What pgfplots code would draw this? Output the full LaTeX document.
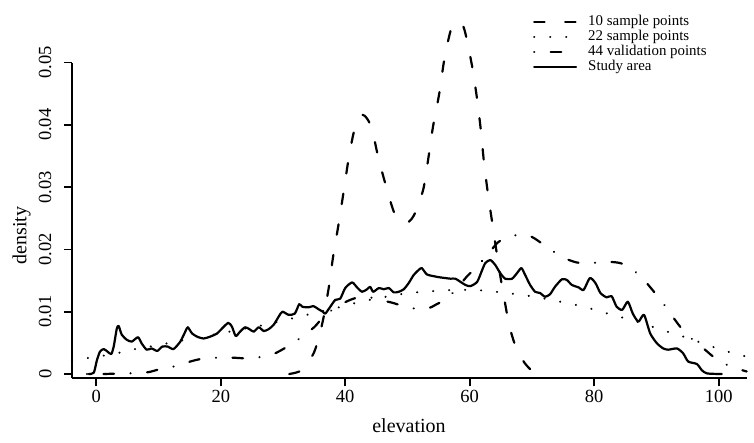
\documentclass[border=0pt]{standalone}
\usepackage{pgfplots}
\pgfplotsset{compat=1.18}
\usepackage{fontspec}
\setmainfont{Liberation Serif}
\begin{document}
\begin{tikzpicture}
\begin{axis}[
  scale only axis,
  width=674.7pt, height=368.3pt,
  xmin=-3.9, xmax=104.5,
  ymin=-0.00069, ymax=0.05843,
  axis x line*=bottom, axis y line*=left,
  y axis line style={draw=none},
  x axis line style={line width=1.8pt},
  clip=false,
  tick align=outside,
  major tick length=8pt,
  tick style={line width=1.6pt, black},
  scaled y ticks=false, scaled x ticks=false,
  xtick={0,20,40,60,80,100},
  xticklabels={0,20,40,60,80,100},
  ytick={0,0.01,0.02,0.03,0.04,0.05},
  yticklabels={0,0.01,0.02,0.03,0.04,0.05},
  /pgf/number format/assume math mode=true,
  tick label style={font=\fontsize{18.5}{20}\selectfont},
  yticklabel style={xshift=-9pt, rotate=90, anchor=south},
  xlabel={elevation}, ylabel={density},
  label style={font=\fontsize{20}{22}\selectfont},
  xlabel style={at={(axis description cs:0.4995,-0.1485)}, anchor=base},
  ylabel style={at={(axis description cs:-0.0676,0.388)}, anchor=base, rotate=0},
  legend image code/.code={\draw[#1] (0pt,0pt) -- (42pt,0pt);},
  legend cell align=left,
  legend style={draw=none, fill=none, at={(0.6833,0.9859)}, anchor=north west,
    inner sep=0pt, outer sep=0pt, row sep=2pt, column sep=11pt,
    font=\fontsize{14.9}{15}\selectfont,
    nodes={inner sep=0pt, text height=10pt, text depth=3pt}},
  every axis plot/.append style={black, line width=2.2pt, line cap=round, line join=round},
]
\addplot[smooth, dash pattern=on 10.5pt off 20.5pt] coordinates {
(31,0)(32,0.0002)(33,0.0006)(34,0.0018)(35,0.0035)(35.8,0.006)(36.5,0.009)(37,0.0118)(37.5,0.0148)(38,0.0185)(38.5,0.0215)(39,0.0245)(39.7,0.029)(40.5,0.0343)(41.3,0.0385)(42,0.0408)(42.8,0.0416)(43.5,0.041)(44.3,0.0393)(45.3,0.0348)(46.6,0.030)(48,0.0256)(49.6,0.0242)(51,0.0254)(52.5,0.0295)(53.3,0.0343)(54.1,0.0397)(55.1,0.045)(55.9,0.0504)(56.9,0.0550)(57.6,0.0562)(58.2,0.0566)(58.8,0.0561)(59.3,0.0547)(60.4,0.0493)(61.2,0.044)(61.8,0.039)(62.3,0.0339)(63,0.0284)(63.8,0.0231)(64.4,0.019)(65,0.0152)(65.6,0.0118)(66.3,0.0080)(67,0.0055)(67.6,0.0039)(68.8,0.0018)(70.2,0.0004)(72,0)
};
\addlegendentry{10 sample points}
\addplot[smooth, dash pattern=on 0.1pt off 15.9pt] coordinates {
(-3.9,0.0022)(-1.1,0.0026)(1.5,0.003)(4.1,0.0035)(6.7,0.0041)(9.2,0.0045)(11.8,0.005)(14.3,0.0055)(16.9,0.006)(19.4,0.0064)(21.9,0.0069)(24.5,0.0074)(27.1,0.0079)(29.7,0.0085)(32.2,0.0091)(34.7,0.0097)(37.3,0.0103)(39.8,0.0109)(42.4,0.0116)(45,0.0121)(47.6,0.0126)(50.2,0.013)(52.7,0.0132)(55.4,0.0134)(58,0.0135)(60.6,0.0135)(63.3,0.0133)(65.9,0.013)(68.4,0.0127)(71,0.0123)(73.5,0.0118)(76.1,0.0113)(78.7,0.0107)(81.1,0.0100)(83.6,0.0093)(86.2,0.0086)(88.7,0.0078)(91.1,0.0070)(93.7,0.0062)(96.1,0.0054)(98.6,0.0045)(101.1,0.0037)(103.6,0.003)(104.5,0.0028)
};
\addlegendentry{22 sample points}
\addplot[smooth, dash pattern=on 0.1pt off 16.5pt on 10.5pt off 16.5pt] coordinates {
(-1.5,0)(1,0)(3,0.00005)(5,0.0001)(6.5,0.00015)(8.4,0.0003)(10.3,0.0008)(12.9,0.0013)(15.1,0.002)(16.7,0.0024)(18.5,0.0026)(20.5,0.0026)(22.3,0.0026)(24.5,0.0025)(26.9,0.0028)(28.2,0.0031)(29.3,0.0036)(31.2,0.0047)(33.1,0.006)(35.1,0.0076)(36.5,0.0092)(38.5,0.0107)(40.8,0.0119)(42.7,0.0124)(44.5,0.0122)(46,0.0118)(47.7,0.0114)(49.6,0.0108)(52,0.0104)(53.5,0.0106)(54.5,0.0111)(56.3,0.0121)(58,0.0138)(59.5,0.0156)(61.2,0.0173)(63,0.0193)(64.5,0.0211)(66.2,0.022)(68.5,0.0224)(70,0.022)(71.1,0.0213)(72.7,0.0202)(74.8,0.0188)(77.2,0.0179)(79.4,0.0178)(81.8,0.018)(84.2,0.0178)(86.1,0.0168)(87.9,0.0152)(89.6,0.0132)(90.9,0.0116)(92.4,0.0095)(93.8,0.0076)(95.3,0.006)(96.5,0.0049)(97.8,0.0039)(99.1,0.0028)(100.8,0.0017)(103.2,0.0008)(104.5,0.0004)
};
\addlegendentry{44 validation points}
\addplot[smooth, tension=0.4] coordinates {
(-1.2,0)(-0.4,0.0002)(0.1,0.0022)(0.6,0.0036)(1.2,0.004)(1.8,0.0036)(2.4,0.0032)(2.8,0.0044)(3.3,0.0073)(3.6,0.0077)(4.1,0.0063)(4.9,0.0055)(5.7,0.0052)(6.7,0.0059)(7.3,0.0049)(8.1,0.0039)(8.9,0.0041)(9.8,0.0037)(10.6,0.0044)(11.5,0.0044)(12.4,0.004)(13.5,0.0052)(14.3,0.0068)(14.7,0.0075)(15.4,0.0065)(16.2,0.006)(17.2,0.0057)(18.3,0.006)(19.4,0.0065)(20.2,0.0073)(21.2,0.0082)(21.8,0.0076)(22.4,0.0061)(23.1,0.0068)(23.9,0.0075)(24.6,0.0072)(25.3,0.0068)(26.1,0.0075)(26.9,0.0069)(27.7,0.0072)(28.5,0.0079)(29.3,0.0092)(29.9,0.01)(30.9,0.0095)(31.9,0.0097)(32.6,0.0112)(33.1,0.0108)(34.1,0.0107)(34.9,0.0109)(35.7,0.0104)(36.4,0.01)(36.8,0.0097)(37.6,0.0108)(38.4,0.0119)(39.2,0.0121)(40,0.0138)(41.1,0.0147)(41.9,0.0139)(42.7,0.0132)(43.5,0.0136)(44,0.014)(44.5,0.0132)(45.4,0.0138)(46.2,0.0136)(47,0.0138)(47.8,0.0131)(48.6,0.0132)(49.4,0.0136)(50.2,0.0146)(51,0.0159)(51.8,0.0167)(52.3,0.017)(53.1,0.016)(54.2,0.0157)(55.3,0.0155)(56.1,0.0154)(56.9,0.0153)(57.7,0.0153)(58.5,0.0148)(59.3,0.0143)(60.1,0.0141)(61.2,0.0148)(62,0.0167)(62.5,0.0178)(63.3,0.0183)(64.1,0.0175)(64.9,0.0162)(65.7,0.0153)(66.8,0.0153)(67.6,0.0162)(68.3,0.017)(68.9,0.0159)(69.7,0.0143)(70.5,0.0132)(71.3,0.013)(72.1,0.0124)(72.9,0.0128)(73.7,0.014)(74.8,0.0152)(75.6,0.0151)(76.4,0.0143)(77.5,0.0139)(78.3,0.0135)(79.3,0.0154)(80.2,0.0146)(81,0.013)(82,0.0123)(82.8,0.0125)(83.6,0.0108)(84.5,0.0103)(85.4,0.0116)(86.2,0.0097)(87.1,0.0084)(88,0.0095)(89,0.0065)(90.1,0.0049)(91.1,0.0041)(91.9,0.0039)(93.3,0.0041)(94.3,0.0033)(95.1,0.002)(96.5,0.0016)(97.3,0.0006)(98.1,0.0001)(100,0)(100.5,0)
};
\addlegendentry{Study area}
\draw[line width=1.8pt, line cap=butt] (axis cs:-3.9,-0.00069) -- (axis cs:-3.9,0.05);
\end{axis}
\pgfresetboundingbox
\path[use as bounding box] ([shift={(-72pt,-64.7pt)}]current axis.south west) rectangle ([shift={(682pt,378.3pt)}]current axis.south west);
\end{tikzpicture}
\end{document}
